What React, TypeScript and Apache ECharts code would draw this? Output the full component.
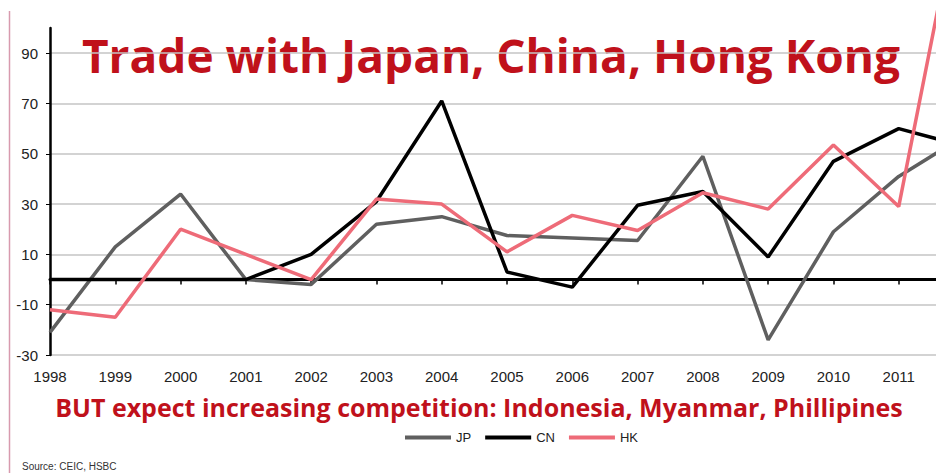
import React, { useEffect, useRef } from "react";
import * as echarts from "echarts";

const years = ["1998","1999","2000","2001","2002","2003","2004","2005","2006","2007","2008","2009","2010","2011","2012"];
const jpValues = [-21, 13, 34, 0, -2, 22, 25, 17.5, 16.5, 15.5, 49, -24, 19, 41, 57];
const cnValues = [0, 0, 0, 0, 10, 31, 71, 3, -3, 29.5, 35, 9, 47, 60, 53];
const hkValues = [-12, -15, 20, 10, 0, 32, 30, 11, 25.5, 19.5, 34.5, 28, 53.5, 29, 160];
const yTickValues = [-30, -10, 10, 30, 50, 70, 90];
const visibleYears = years.slice(0, years.length - 1);

const titleText = "Trade with Japan, China, Hong Kong";
const subtitleText = "BUT expect increasing competition: Indonesia, Myanmar, Phillipines";
const sourceText = "Source: CEIC, HSBC";

const narrow = "Liberation Sans";
const heading = "Open Sans";

export default function App() {
  const ref = useRef<HTMLDivElement>(null);
  useEffect(() => {
    if (!ref.current) return;
    const chart = echarts.init(ref.current, null, { renderer: "svg" });
    chart.setOption({
      animation: false,
      backgroundColor: "#ffffff",
      grid: { left: 50, top: 28, bottom: 118, width: 914, containLabel: false },
      legend: {
        data: ["JP", "CN", "HK"],
        icon: "rect",
        itemWidth: 46,
        itemHeight: 4,
        itemGap: 14,
        left: 400,
        top: 426,
        textStyle: { fontFamily: narrow, fontSize: 13, color: "#222" },
      },
      xAxis: [
        {
          type: "category",
          data: years,
          boundaryGap: false,
          position: "bottom",
          axisLine: { show: false, onZero: false },
          axisTick: { show: false },
          axisLabel: {
            interval: (_i: number, v: string) => visibleYears.indexOf(v) >= 0,
            margin: 14, fontFamily: narrow, fontSize: 15, color: "#222",
          },
          splitLine: { show: false },
        },
        {
          type: "category",
          data: years,
          boundaryGap: false,
          position: "top",
          axisLine: { show: true, onZero: true, lineStyle: { color: "#000", width: 3 } },
          axisTick: { show: true, inside: true, length: 5, lineStyle: { color: "#000", width: 1.5 } },
          axisLabel: { show: false },
          splitLine: { show: false },
        },
      ],
      yAxis: {
        type: "value",
        min: -30,
        max: 100,
        axisLine: { show: true, lineStyle: { color: "#000", width: 2.5 } },
        axisTick: { show: true, length: 4, customValues: yTickValues, lineStyle: { color: "#000", width: 1 } },
        axisLabel: { customValues: yTickValues, margin: 12, fontFamily: narrow, fontSize: 15, color: "#222" },
        splitLine: { show: true, lineStyle: { color: "#c4c4c4", width: 1.5 } },
      },
      series: [
        { name: "JP", type: "line", data: jpValues, symbol: "none", clip: false, lineStyle: { color: "#5f5f5f", width: 3.5 }, itemStyle: { color: "#5f5f5f" } },
        { name: "CN", type: "line", data: cnValues, symbol: "none", clip: false, lineStyle: { color: "#000000", width: 3.5 }, itemStyle: { color: "#000000" } },
        { name: "HK", type: "line", data: hkValues, symbol: "none", clip: false, lineStyle: { color: "#ee6b78", width: 3.5 }, itemStyle: { color: "#ee6b78" } },
      ],
      graphic: [
        { type: "line", shape: { x1: 9.5, y1: 11, x2: 9.5, y2: 473 }, style: { stroke: "#d89aae", lineWidth: 1.5 } },
        {
          type: "text", x: 491, y: 55,
          style: {
            text: titleText, fill: "#c0111b", font: `bold 46px ${heading}`,
            textAlign: "center", textVerticalAlign: "middle",
            shadowColor: "rgba(0,0,0,0.35)", shadowBlur: 3, shadowOffsetX: 1, shadowOffsetY: 2,
          },
        },
        {
          type: "text", x: 479, y: 407,
          style: {
            text: subtitleText, fill: "#c0111b", font: `bold 25px ${heading}`,
            textAlign: "center", textVerticalAlign: "middle",
            shadowColor: "rgba(0,0,0,0.3)", shadowBlur: 2, shadowOffsetX: 1, shadowOffsetY: 1,
          },
        },
        {
          type: "text", x: 22, y: 466,
          style: { text: sourceText, fill: "#333", font: `10px ${narrow}`, textVerticalAlign: "middle" },
        },
      ],
    });
    return () => chart.dispose();
  }, []);
  return (
    <div style={{ position: "fixed", left: 0, top: 0, width: 936, height: 473, overflow: "hidden", background: "#fff" }}>
      <div ref={ref} style={{ width: 1000, height: 473 }} />
    </div>
  );
}
